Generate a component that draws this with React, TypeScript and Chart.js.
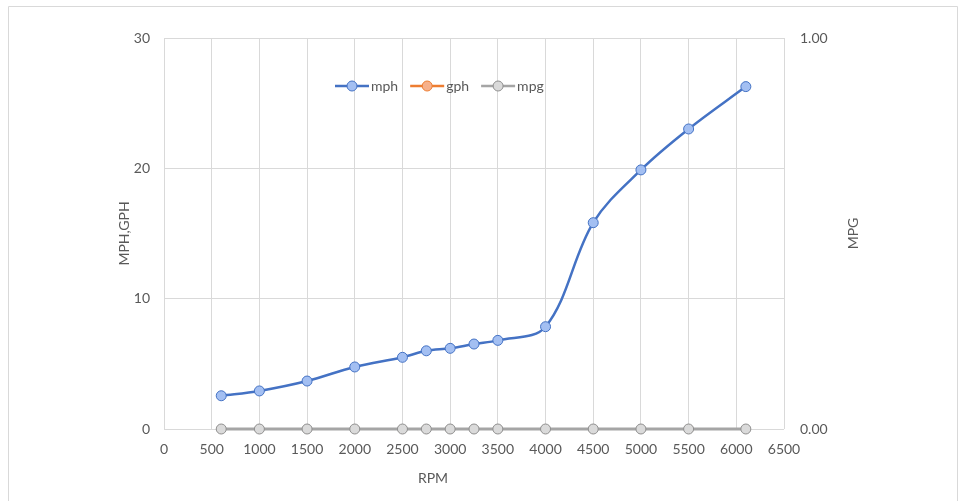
import React, { useEffect, useRef } from "react";
import { Chart, registerables } from "chart.js";

Chart.register(...registerables);

const rpm = [600, 1000, 1500, 2000, 2500, 2750, 3000, 3250, 3500, 4000, 4500, 5000, 5500, 6100];
const mph = [2.55, 2.92, 3.68, 4.76, 5.5, 6.0, 6.19, 6.52, 6.8, 7.85, 15.83, 19.88, 23.02, 26.27];
const gph = [0, 0, 0, 0, 0, 0, 0, 0, 0, 0, 0, 0, 0, 0];
const mpg = [0, 0, 0, 0, 0, 0, 0, 0, 0, 0, 0, 0, 0, 0];

const leftTicks = [0, 10, 20, 30];
const rightTicks = [0, 1];

const FONT = "Lato, 'Open Sans', sans-serif";
const FS = 14;
const TEXT = "#595959";
const GRID = "#d9d9d9";

const chromePlugin = {
  id: "chrome",
  beforeDraw(chart: any) {
    const ctx = chart.ctx;
    ctx.save();
    ctx.strokeStyle = GRID;
    ctx.lineWidth = 1;
    ctx.beginPath();
    ctx.moveTo(8.5, 520);
    ctx.lineTo(8.5, 6.5);
    ctx.lineTo(957.5, 6.5);
    ctx.lineTo(957.5, 520);
    ctx.stroke();
    ctx.restore();
  },
  afterDraw(chart: any) {
    const ctx = chart.ctx;
    const area = chart.chartArea;
    ctx.save();
    ctx.fillStyle = TEXT;
    ctx.font = `${FS}px ${FONT}`;
    ctx.textAlign = "center";
    ctx.textBaseline = "middle";
    const midY = (area.top + area.bottom) / 2;
    ctx.save();
    ctx.translate(124, midY);
    ctx.rotate(-Math.PI / 2);
    ctx.fillText("MPH,GPH", 0, 0);
    ctx.restore();
    ctx.save();
    ctx.translate(853, midY);
    ctx.rotate(-Math.PI / 2);
    ctx.fillText("MPG", 0, 0);
    ctx.restore();
    ctx.fillText("RPM", 433, 478);

    const y = 86;
    let x = 335;
    ctx.textAlign = "left";
    chart.data.datasets.forEach((ds: any) => {
      const lineLen = 34;
      ctx.strokeStyle = ds.borderColor;
      ctx.lineWidth = 2.5;
      ctx.beginPath();
      ctx.moveTo(x, y);
      ctx.lineTo(x + lineLen, y);
      ctx.stroke();
      ctx.beginPath();
      ctx.arc(x + lineLen / 2, y, 5, 0, Math.PI * 2);
      ctx.fillStyle = ds.pointBackgroundColor;
      ctx.fill();
      ctx.lineWidth = 1;
      ctx.strokeStyle = ds.pointBorderColor;
      ctx.stroke();
      ctx.fillStyle = TEXT;
      const tx = x + lineLen + 2;
      ctx.fillText(ds.label, tx, y);
      x = tx + ctx.measureText(ds.label).width + 12;
    });
    ctx.restore();
  },
};

export default function App() {
  const ref = useRef<HTMLCanvasElement>(null);

  useEffect(() => {
    if (!ref.current) return;
    const pts = (ys: number[]) => rpm.map((x, i) => ({ x, y: ys[i] }));
    const chart = new Chart(ref.current, {
      type: "line",
      data: {
        datasets: [
          {
            label: "mph",
            data: pts(mph),
            yAxisID: "y",
            borderColor: "#4472C4",
            borderWidth: 2.5,
            pointBackgroundColor: "#a3bff2",
            pointBorderColor: "#4472C4",
            pointBorderWidth: 1,
            pointRadius: 5,
            tension: 0.35,
            order: 0,
            clip: false,
          },
          {
            label: "gph",
            data: pts(gph),
            yAxisID: "y",
            borderColor: "#ED7D31",
            borderWidth: 2,
            pointBackgroundColor: "#f6b08a",
            pointBorderColor: "#ED7D31",
            pointBorderWidth: 1,
            pointRadius: 4,
            tension: 0.35,
            order: 2,
            clip: false,
          },
          {
            label: "mpg",
            data: pts(mpg),
            yAxisID: "y1",
            borderColor: "#A5A5A5",
            borderWidth: 3,
            pointBackgroundColor: "#dadada",
            pointBorderColor: "#8f8f8f",
            pointBorderWidth: 1,
            pointRadius: 5,
            tension: 0.35,
            order: 1,
            clip: false,
          },
        ] as any,
      },
      options: {
        responsive: false,
        animation: false,
        devicePixelRatio: 1,
        layout: { padding: { left: 100, right: 100, top: 38, bottom: 40 } },
        plugins: { legend: { display: false }, tooltip: { enabled: false } },
        scales: {
          x: {
            type: "linear",
            min: 0,
            max: 6500,
            border: { display: false },
            grid: { color: GRID, lineWidth: 1, drawTicks: false },
            ticks: {
              stepSize: 500,
              color: TEXT,
              font: { family: FONT, size: FS },
              padding: 12,
              maxRotation: 0,
              autoSkip: false,
              callback: (v: any) => String(v),
            },
            afterFit: (s: any) => { s.height = 32; },
          },
          y: {
            position: "left",
            min: 0,
            max: 30,
            border: { display: false },
            grid: { color: GRID, lineWidth: 1, drawTicks: false },
            afterBuildTicks: (s: any) => { s.ticks = leftTicks.map((v) => ({ value: v })); },
            ticks: { color: TEXT, font: { family: FONT, size: FS }, padding: 14 },
            afterFit: (s: any) => { s.width = 64; },
          },
          y1: {
            position: "right",
            min: 0,
            max: 1,
            border: { display: false },
            grid: { display: false, drawTicks: false },
            afterBuildTicks: (s: any) => { s.ticks = rightTicks.map((v) => ({ value: v })); },
            ticks: {
              color: TEXT,
              font: { family: FONT, size: FS },
              padding: 16,
              callback: (v: any) => Number(v).toFixed(2),
            },
            afterFit: (s: any) => { s.width = 78; },
          },
        },
      } as any,
      plugins: [chromePlugin],
    });
    return () => chart.destroy();
  }, []);

  return (
    <div style={{ position: "fixed", left: 0, top: 0, width: 962, height: 501, background: "#fff" }}>
      <canvas ref={ref} width={962} height={501} style={{ display: "block" }} />
    </div>
  );
}
